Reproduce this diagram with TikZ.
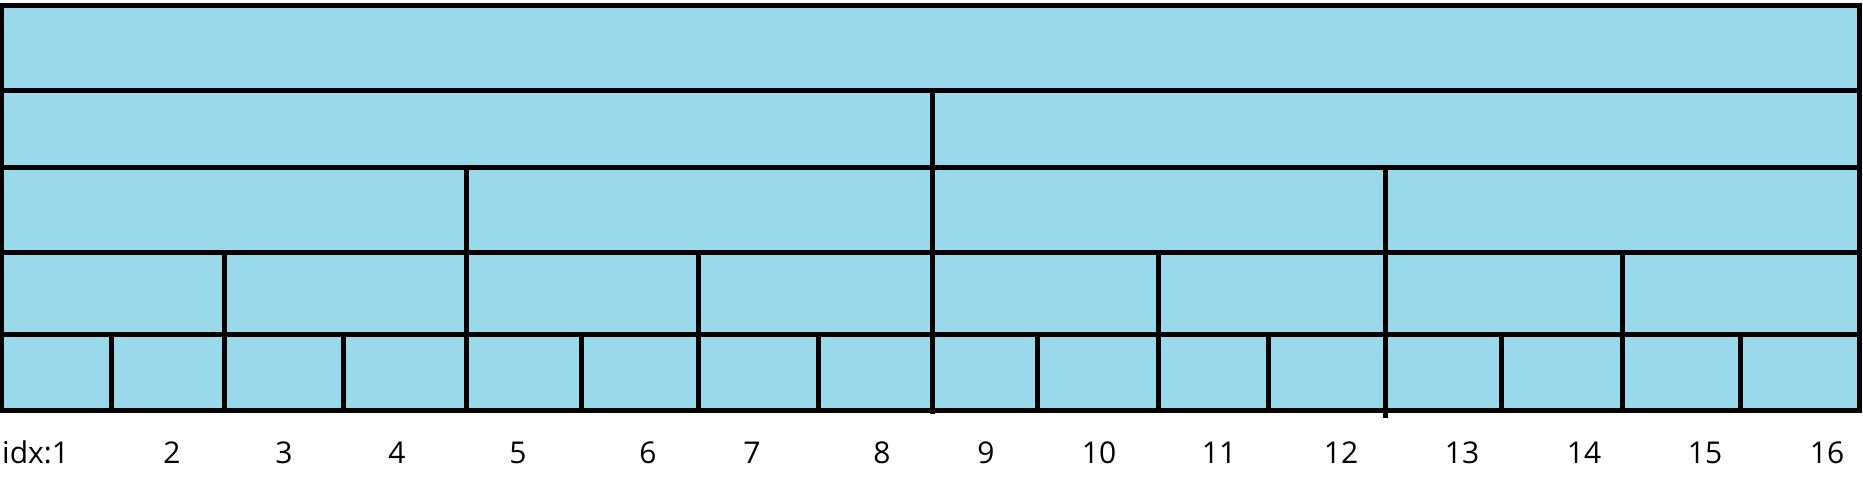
\documentclass[tikz,border=0pt]{standalone}
\usepackage{fontspec}
\setmainfont{Open Sans}
\definecolor{cellblue}{RGB}{153,217,234}
\begin{document}
\begin{tikzpicture}[x=1pt,y=-1pt,
  grid/.style={line width=5pt,black},
  idxlabel/.style={font=\fontsize{30}{32}\selectfont,anchor=base,inner sep=0pt}]
\useasboundingbox (0,0) rectangle (1863,488);
\fill[cellblue] (1,5.5) rectangle (1859,410);
% horizontal lines
\foreach \y in {90,167.5,252.5,334}
  \draw[grid] (1,\y) -- (1859,\y);
\draw[grid] (1,5.5) rectangle (1859,410);
% row 2
\draw[grid] (932,90) -- (932,414);
% row 3
\draw[grid] (466,167.5) -- (466,412);
\draw[grid] (1385,167.5) -- (1385,418);
% row 4
\foreach \x in {224.5,698,1158,1622}
  \draw[grid] (\x,252.5) -- (\x,413);
% row 5
\foreach \x in {111.6,343,581,818,1037,1268,1501,1740}
  \draw[grid] (\x,334) -- (\x,413);
% labels
\node[idxlabel,anchor=base west] (l1) at (2,463) {idx:1};
\foreach \n/\x in {2/172,3/284,4/397,5/518,6/648,7/752,8/882,9/986,10/1099,11/1219,12/1341,13/1462,14/1584,15/1705,16/1827}
  \node[idxlabel] (l\n) at (\x,463) {\n};
\end{tikzpicture}
\end{document}
